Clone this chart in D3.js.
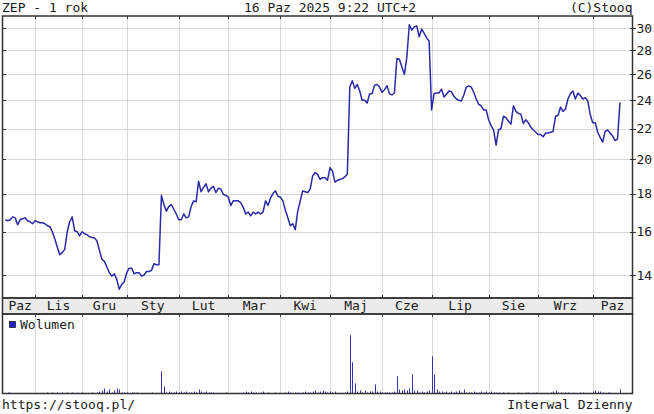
<!DOCTYPE html>
<html>
<head>
<meta charset="utf-8">
<title>ZEP - 1 rok</title>
<style>
  body { margin: 0; background: #fff; }
  svg { display: block; }
  text { font-family: "DejaVu Sans Mono", "Liberation Mono", monospace; font-size: 13px; fill: #1a1a1a; }
  .grid line { stroke: #d9d9d9; stroke-width: 1; shape-rendering: crispEdges; }
  .frame { fill: none; stroke: #333; stroke-width: 1.5; }
  .axis path { display: none; }
  .axis line { stroke: #333; shape-rendering: crispEdges; }
</style>
</head>
<body>
<svg width="654" height="414"></svg>
<script src="https://d3js.org/d3.v7.min.js"></script>
<script>

// month labels (Polish), one array of daily closes per month, Oct 2024 .. Oct 2025
var monthLabels = ["Paz", "Lis", "Gru", "Sty", "Lut", "Mar", "Kwi", "Maj", "Cze", "Lip", "Sie", "Wrz", "Paz"];

var closeByMonth = [
  [16.6, 16.55, 16.6, 16.75, 16.7, 16.35, 16.6, 16.65, 16.7, 16.55, 16.5, 16.4],
  [16.55, 16.5, 16.45, 16.45, 16.4, 16.3, 16.25, 16.0, 15.65, 15.25, 14.9, 15.0, 15.15, 16.0, 16.5, 16.75, 16.05, 16.0, 15.8],
  [16.0, 15.9, 15.85, 15.75, 15.72, 15.7, 15.55, 15.1, 14.7, 14.6, 14.35, 14.1, 13.95, 14.05, 13.8, 13.4, 13.6, 13.7],
  [14.1, 14.3, 14.3, 14.05, 14.1, 14.1, 13.95, 14.0, 14.15, 14.15, 14.2, 14.5, 14.45, 14.45, 17.9, 17.4, 17.05, 17.3, 17.4, 17.15, 16.9],
  [16.6, 16.6, 16.9, 16.7, 16.75, 17.3, 17.6, 17.55, 18.7, 18.1, 18.35, 18.55, 18.1, 18.3, 18.4, 18.05, 18.3, 18.25, 17.95, 17.9],
  [17.8, 17.35, 17.6, 17.6, 17.6, 17.5, 17.25, 16.9, 17.0, 16.8, 17.0, 16.9, 17.0, 16.9, 17.0, 17.6, 17.35, 17.75, 18.0, 18.15, 17.85],
  [17.8, 17.6, 17.1, 16.7, 16.3, 16.4, 16.1, 17.05, 17.6, 18.15, 18.1, 18.05, 18.25, 19.0, 19.2, 19.1, 18.8, 18.9, 18.9, 18.75],
  [19.5, 19.3, 18.65, 18.75, 18.8, 18.85, 18.95, 19.1, 25.0, 25.5, 24.9, 25.2, 24.7, 24.0, 24.0, 23.8, 24.5, 24.5, 25.15, 25.2, 25.0],
  [24.6, 24.8, 25.1, 24.5, 24.4, 24.55, 27.3, 27.25, 26.6, 26.0, 27.4, 30.3, 29.8, 30.1, 30.2, 29.2, 29.9, 29.5, 29.1, 28.8],
  [23.3, 24.5, 24.55, 24.55, 24.85, 24.25, 24.45, 24.7, 24.65, 24.3, 24.1, 24.0, 23.95, 24.4, 25.0, 25.1, 25.0, 24.6, 24.1, 23.7, 23.6, 23.3, 23.3],
  [22.6, 22.2, 21.9, 20.9, 21.9, 22.0, 22.85, 22.75, 22.5, 22.3, 23.6, 23.2, 23.05, 23.0, 22.35, 22.6, 22.4, 22.1, 21.9, 21.75],
  [21.6, 21.6, 21.45, 21.7, 21.7, 21.75, 21.8, 22.85, 22.9, 23.5, 23.2, 23.35, 24.1, 24.5, 24.7, 24.1, 24.55, 24.35, 24.1, 24.2, 23.95, 22.95],
  [22.4, 22.4, 21.75, 21.4, 21.1, 21.8, 21.9, 21.7, 21.5, 21.2, 21.3, 23.85]
];

// daily volume (shares), same month layout
var volumeByMonth = [
  [0, 500, 500, 0, 0, 0, 0, 0, 0, 0, 0, 0],
  [0, 0, 0, 0, 0, 500, 0, 500, 0, 500, 0, 500, 0, 500, 0, 500, 0, 500, 0],
  [500, 0, 0, 0, 500, 0, 500, 1000, 1500, 2500, 1000, 2000, 500, 1500, 2500, 2000, 500, 500],
  [500, 0, 500, 500, 500, 0, 0, 0, 0, 0, 500, 0, 0, 0, 11000, 3500, 500, 1000, 500, 500, 1000],
  [500, 1000, 500, 1000, 500, 500, 1000, 500, 2000, 1000, 500, 1000, 500, 500, 500, 0, 0, 0, 0, 500],
  [0, 0, 0, 0, 0, 0, 500, 1000, 500, 1000, 500, 500, 0, 500, 1000, 0, 500, 0, 0, 500, 0],
  [0, 0, 500, 1000, 500, 0, 500, 500, 0, 500, 1000, 500, 500, 1000, 1500, 500, 1000, 1500, 1000, 500],
  [1000, 500, 1000, 0, 0, 0, 500, 1000, 29000, 15500, 5000, 1000, 1500, 500, 1500, 500, 1000, 1000, 4500, 1000, 1000],
  [500, 500, 500, 500, 500, 1000, 8500, 2000, 1500, 2000, 1500, 2500, 9500, 1500, 1500, 500, 1000, 500, 1000, 1500],
  [18500, 9500, 2000, 1000, 1000, 500, 1000, 500, 1000, 500, 1000, 1500, 500, 2000, 500, 500, 500, 1000, 500, 500, 1000, 500, 1000],
  [500, 1000, 500, 500, 500, 0, 500, 0, 500, 0, 0, 0, 500, 0, 0, 500, 500, 0, 500, 500],
  [0, 0, 0, 0, 0, 500, 1000, 1500, 500, 500, 0, 500, 500, 0, 500, 0, 0, 500, 500, 0, 0, 0],
  [1000, 1500, 1000, 1000, 500, 0, 500, 500, 0, 0, 0, 2000]
];

var priceTicks = [14, 16, 18, 20, 22, 24, 26, 28, 30];

var closes = closeByMonth.flat(),
    volumes = volumeByMonth.flat();

// first trading-day index of every month
var monthStart = [], acc = 0;
closeByMonth.forEach(function(m) { monthStart.push(acc); acc += m.length; });

var svg = d3.select("svg");

var left = 2.5, right = 632.5,
    priceTop = 16, priceBottom = 298,
    bandBottom = 314, volBottom = 393.5;

var x = d3.scaleLinear()
  .domain([0, closes.length - 1])
  .range([5.25, 620]);

var y = d3.scaleLog()
  .domain([14, 30])
  .range([275, 28]);

var yv = d3.scaleLinear()
  .domain([0, 38500])
  .range([volBottom, 316]);

// month gridlines over price and volume panels
var monthLines = monthStart.slice(1);

var grid = svg.append("g").attr("class", "grid");

grid.selectAll(".hg")
  .data(priceTicks)
  .enter().append("line")
  .attr("x1", left).attr("x2", right)
  .attr("y1", function(d) { return Math.round(y(d)) + 0.5; })
  .attr("y2", function(d) { return Math.round(y(d)) + 0.5; });

grid.selectAll(".vg")
  .data(monthLines)
  .enter().append("line")
  .attr("x1", function(d) { return Math.round(x(d)) + 0.5; })
  .attr("x2", function(d) { return Math.round(x(d)) + 0.5; })
  .attr("y1", priceTop).attr("y2", priceBottom);

grid.selectAll(".vg2")
  .data(monthLines)
  .enter().append("line")
  .attr("x1", function(d) { return Math.round(x(d)) + 0.5; })
  .attr("x2", function(d) { return Math.round(x(d)) + 0.5; })
  .attr("y1", bandBottom).attr("y2", volBottom);

// month label band
svg.append("rect")
  .attr("x", left).attr("y", priceBottom)
  .attr("width", right - left).attr("height", bandBottom - priceBottom)
  .attr("fill", "#ebebeb");

// price line
var line = d3.line()
  .x(function(d, i) { return x(i); })
  .y(function(d) { return y(d); });

svg.append("path")
  .datum(closes)
  .attr("fill", "none")
  .attr("stroke", "#2a2aa6")
  .attr("stroke-width", 1.5)
  .attr("stroke-linejoin", "round")
  .attr("d", line);

// volume bars
svg.append("g")
  .selectAll("rect")
  .data(volumes)
  .enter().append("rect")
  .attr("x", function(d, i) { return Math.round(x(i)); })
  .attr("y", function(d) { return yv(d); })
  .attr("width", 1)
  .attr("height", function(d) { return volBottom - yv(d); })
  .attr("fill", "#3434b0");

// frames
svg.append("rect").attr("class", "frame")
  .attr("x", left).attr("y", priceTop)
  .attr("width", right - left).attr("height", priceBottom - priceTop);
svg.append("rect").attr("class", "frame")
  .attr("x", left).attr("y", priceBottom)
  .attr("width", right - left).attr("height", bandBottom - priceBottom);
svg.append("rect").attr("class", "frame")
  .attr("x", left).attr("y", bandBottom)
  .attr("width", right - left).attr("height", volBottom - bandBottom);

// axes: right price labels, small ticks on the frames
svg.append("g")
  .attr("class", "axis")
  .attr("transform", "translate(" + (right - 3) + ",0)")
  .call(d3.axisRight(y).tickValues(priceTicks).tickSize(6).tickPadding(1).tickFormat(d3.format("d")))
  .selectAll("text").attr("font-size", 13).attr("font-family", "DejaVu Sans Mono").attr("fill", "#1a1a1a");

svg.append("g")
  .attr("class", "axis")
  .attr("transform", "translate(" + left + ",0)")
  .call(d3.axisRight(y).tickValues(priceTicks).tickSize(3).tickFormat(""));

var xi = d3.scaleLinear().domain(x.domain()).range(x.range());
[priceTop, priceBottom, bandBottom].forEach(function(yy, k) {
  var ax = k === 0 ? d3.axisBottom(xi) : (k === 1 ? d3.axisTop(xi) : d3.axisBottom(xi));
  svg.append("g")
    .attr("class", "axis")
    .attr("transform", "translate(0," + yy + ")")
    .call(ax.tickValues(monthLines).tickSize(3).tickFormat(""));
});

// month names centred in each month span
svg.append("g")
  .selectAll("text")
  .data(monthLabels)
  .enter().append("text")
  .attr("x", function(d, i) {
    var a = x(monthStart[i]);
    var b = i + 1 < monthStart.length ? x(monthStart[i + 1]) : right;
    return (a + b) / 2;
  })
  .attr("y", priceBottom + 12)
  .attr("text-anchor", "middle")
  .text(function(d) { return d; });

// header
svg.append("text").attr("x", 2).attr("y", 12).text("ZEP - 1 rok");
svg.append("text").attr("x", 330).attr("y", 12).attr("text-anchor", "middle").text("16 Paz 2025 9:22 UTC+2");
svg.append("text").attr("x", right).attr("y", 12).attr("text-anchor", "end").text("(C)Stooq");

// volume legend
svg.append("rect")
  .attr("x", 9.5).attr("y", 321.5).attr("width", 6).attr("height", 6)
  .attr("fill", "#1f1fd0").attr("stroke", "#222").attr("stroke-width", 0.8);
svg.append("text").attr("x", 20).attr("y", 329).text("Wolumen");

// footer
svg.append("text").attr("x", 2).attr("y", 409).text("https://stooq.pl/");
svg.append("text").attr("x", right).attr("y", 409).attr("text-anchor", "end").text("Interwal Dzienny");

</script>
</body>
</html>
